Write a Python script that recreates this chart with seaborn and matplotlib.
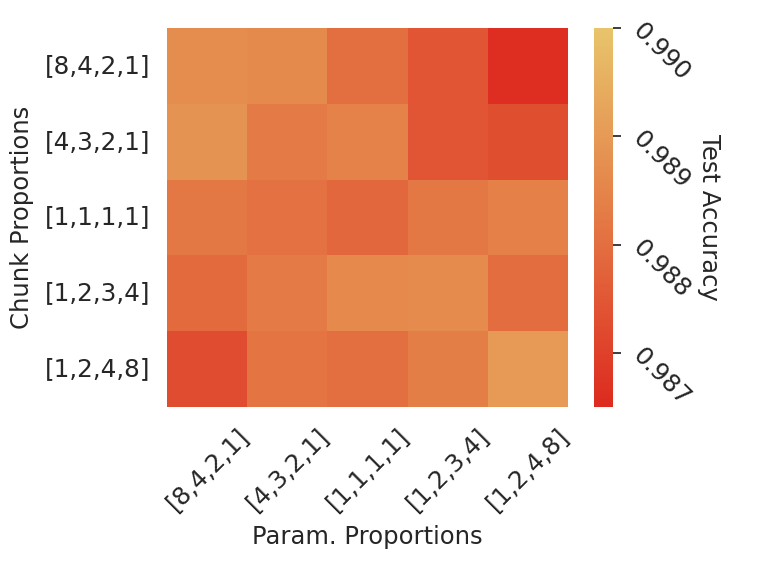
import numpy as np
import pandas as pd
import matplotlib
matplotlib.use("Agg")
import matplotlib.pyplot as plt
import seaborn as sns

chunk_labels = ["[8,4,2,1]", "[4,3,2,1]", "[1,1,1,1]", "[1,2,3,4]", "[1,2,4,8]"]
param_labels = ["[8,4,2,1]", "[4,3,2,1]", "[1,1,1,1]", "[1,2,3,4]", "[1,2,4,8]"]

row_8421 = [0.98870, 0.98862, 0.98800, 0.98745, 0.98660]
row_4321 = [0.98885, 0.98825, 0.98845, 0.98745, 0.98730]
row_1111 = [0.98820, 0.98805, 0.98785, 0.98820, 0.98840]
row_1234 = [0.98790, 0.98825, 0.98860, 0.98865, 0.98795]
row_1248 = [0.98725, 0.98815, 0.98800, 0.98835, 0.98900]

cbar_ticks = [0.987, 0.988, 0.989, 0.990]

df = pd.DataFrame([row_8421, row_4321, row_1111, row_1234, row_1248],
                  index=chunk_labels, columns=param_labels)

sns.set_theme(style="white", font_scale=1.45)
plt.rcParams['font.family'] = ['DejaVu Sans']
plt.rcParams['xtick.labelsize'] = 17.8
plt.rcParams['ytick.labelsize'] = 17.8
plt.rcParams['axes.labelsize'] = 17.5

cmap = sns.blend_palette(["#dd2a1f", "#e47a45", "#e8c46b"], as_cmap=True)

fig = plt.figure(figsize=(7.6, 5.66), dpi=100)
ax = fig.add_axes([167/760, 1-407/566, 401/760, 379/566])
cax = fig.add_axes([594/760, 1-407/566, 19/760, 379/566])

sns.heatmap(df, ax=ax, cbar_ax=cax, cmap=cmap, vmin=0.9865, vmax=0.9900,
            square=False, cbar_kws={"ticks": cbar_ticks, "format": "%.3f"})

ax.tick_params(axis="both", pad=6)
ax.set_xlabel("Param. Proportions", labelpad=7)
ax.set_ylabel("Chunk Proportions", labelpad=8)
ax.set_xticklabels(param_labels, rotation=45)
ax.set_yticklabels(chunk_labels, rotation=0)

cax.tick_params(axis="y", pad=5)
for t in cax.get_yticklabels():
    t.set_rotation(-45)
    t.set_fontsize(17.8)
cax.set_ylabel("Test Accuracy", rotation=270, va="center", ha="center", fontsize=17.5)
cax.yaxis.set_label_coords(6.05, 0.5)

fig.savefig("out.png", dpi=100)
